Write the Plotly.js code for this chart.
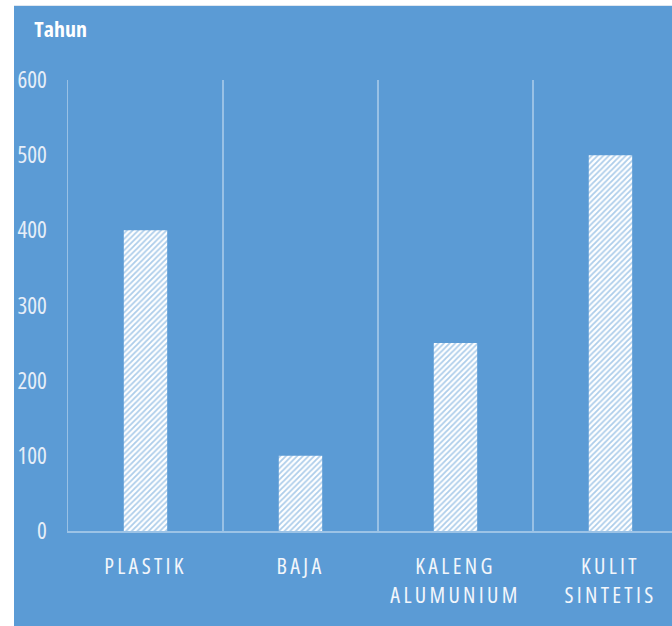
<!DOCTYPE html>
<html>
<head>
<meta charset="utf-8">
<script src="https://cdn.plot.ly/plotly-3.0.1.min.js"></script>
<style>
html,body{margin:0;padding:0;background:#fff;}
#chart{width:672px;height:626px;}
.main-svg text{font-stretch:75% !important;}
.xtick text{letter-spacing:3.3px;}
</style>
</head>
<body>
<div id="chart"></div>
<script>
const categories = ["PLASTIK", "BAJA", "KALENG<br>ALUMUNIUM", "KULIT<br>SINTETIS"];
const years = [400, 100, 250, 500];
const yTicks = [0, 100, 200, 300, 400, 500, 600];

const blue = '#5b9bd5';
const fontFam = '"Open Sans", sans-serif';

const trace = {
  type: 'bar',
  x: categories,
  y: years,
  width: 0.28,
  marker: {
    color: '#ffffff',
    line: {width: 0},
    pattern: {shape: '/', fillmode: 'overlay', fgcolor: blue, bgcolor: '#ffffff', size: 4, solidity: 0.45}
  },
  hoverinfo: 'none'
};

const layout = {
  width: 672, height: 626,
  margin: {l: 68, r: 0, t: 80, b: 95},
  paper_bgcolor: blue,
  plot_bgcolor: blue,
  showlegend: false,
  font: {family: fontFam, color: '#eef3fa'},
  xaxis: {
    type: 'category',
    range: [-0.5, 3.397],
    tickson: 'boundaries',
    ticks: '',
    showgrid: true,
    gridcolor: 'rgba(255,255,255,0.38)',
    gridwidth: 1.5,
    showline: true,
    linecolor: 'rgba(255,255,255,0.4)',
    linewidth: 1.5,
    zeroline: false,
    tickfont: {size: 22, color: '#f2f6fb', family: fontFam},
    ticklabelstandoff: 15,
    fixedrange: true
  },
  yaxis: {
    range: [0, 600],
    tickmode: 'array',
    tickvals: yTicks,
    ticks: '',
    showgrid: false,
    zeroline: false,
    showline: true,
    linecolor: 'rgba(255,255,255,0.38)',
    linewidth: 1.5,
    tickfont: {size: 23, color: '#e6eef8', family: fontFam},
    ticklabelstandoff: 15,
    fixedrange: true
  },
  annotations: [{
    xref: 'paper', yref: 'paper', x: -44/604, y: 1 + 52/451,
    xanchor: 'left', yanchor: 'middle',
    text: '<b>Tahun</b>', showarrow: false,
    font: {size: 22, color: '#ffffff', family: fontFam}
  }],
  shapes: [
    {type: 'rect', xref: 'paper', yref: 'paper', x0: -68/604, x1: -54/604, y0: -95/451, y1: 80/451 + 1, fillcolor: '#ffffff', line: {width: 0}, layer: 'below'},
    {type: 'rect', xref: 'paper', yref: 'paper', x0: -68/604, x1: 1, y0: 1 + 75/451, y1: 1 + 80/451, fillcolor: '#ffffff', line: {width: 0}, layer: 'below'},
    {type: 'rect', xref: 'paper', yref: 'paper', x0: -54/604, x1: 1, y0: 1 + 74/451, y1: 1 + 75/451, fillcolor: '#dfe7f0', line: {width: 0}, layer: 'below'}
  ]
};

Plotly.newPlot('chart', [trace], layout, {displayModeBar: false, staticPlot: true});
</script>
</body>
</html>
